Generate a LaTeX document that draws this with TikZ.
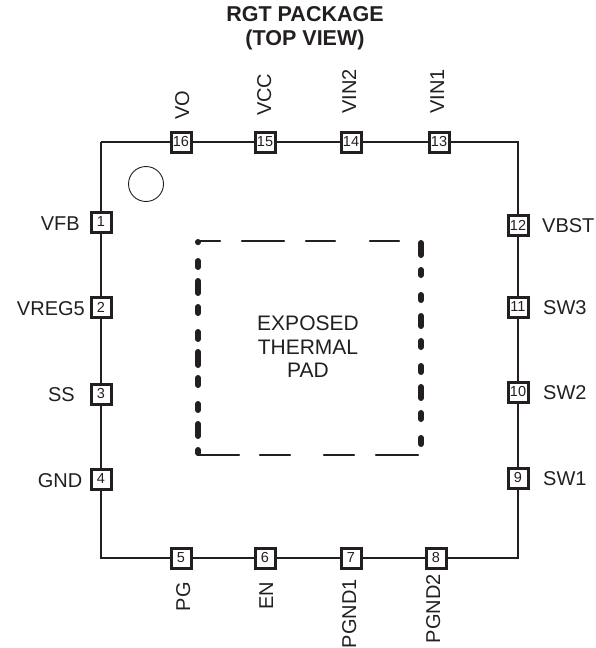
\documentclass[tikz,border=0pt]{standalone}
\usepackage{fontspec}
\setmainfont{Liberation Sans}
\definecolor{inkdark}{HTML}{231F20}
\begin{document}
\begin{tikzpicture}[x=1pt, y=-1pt, line width=2.4pt, color=inkdark,
    pinbox/.style={draw, shape=rectangle, minimum size=20pt, inner sep=0pt, line width=3pt, fill=white, font=\fontsize{14.5}{15}\selectfont},
    pinname/.style={inner sep=0pt, text height=14.4pt, text depth=0pt, font=\fontsize{20}{24}\selectfont},
    padthin/.style={line width=2.4pt, line cap=round},
    padthick/.style={line width=6pt, line cap=round}
]
\useasboundingbox (0,0) rectangle (596,648);
% --- Title ---
\node[align=center, inner sep=0pt, font=\fontsize{21.5}{24}\selectfont\bfseries] (title) at (305,28.5) {RGT PACKAGE\\(TOP VIEW)};
% --- Left pins ---
\node[pinbox] (p1) at (101,222) {1};
\node[pinbox] (p2) at (101,307) {2};
\node[pinbox] (p3) at (101,394) {3};
\node[pinbox] (p4) at (101,479) {4};
% --- Bottom pins ---
\node[pinbox] (p5) at (181,558) {5};
\node[pinbox] (p6) at (265,558) {6};
\node[pinbox] (p7) at (351,558) {7};
\node[pinbox] (p8) at (436,558) {8};
% --- Right pins ---
\node[pinbox] (p9) at (518,478) {9};
\node[pinbox] (p10) at (518,392) {10};
\node[pinbox] (p11) at (518,307) {11};
\node[pinbox] (p12) at (518,225) {12};
% --- Top pins ---
\node[pinbox] (p13) at (439,142) {13};
\node[pinbox] (p14) at (351,142) {14};
\node[pinbox] (p15) at (265,142) {15};
\node[pinbox] (p16) at (181,142) {16};
% --- Package corners ---
\coordinate (ctl) at (101,142);
\coordinate (ctr) at (518,142);
\coordinate (cbr) at (518,558);
\coordinate (cbl) at (101,558);
% --- Package outline ---
\draw (ctl) -- (p1);
\draw (p1) -- (p2);
\draw (p2) -- (p3);
\draw (p3) -- (p4);
\draw (p4) -- (cbl) -- (p5);
\draw (p5) -- (p6);
\draw (p6) -- (p7);
\draw (p7) -- (p8);
\draw (p8) -- (cbr) -- (p9);
\draw (p9) -- (p10);
\draw (p10) -- (p11);
\draw (p11) -- (p12);
\draw (p12) -- (ctr) -- (p13);
\draw (p13) -- (p14);
\draw (p14) -- (p15);
\draw (p15) -- (p16);
\draw (p16) -- (ctl);
% --- Pin 1 marker ---
\node[draw, shape=circle, minimum size=35pt, inner sep=0pt, line width=0.9pt] (dot) at (146,184) {};
% --- Pin names, left ---
\node[pinname, anchor=east] (nfb) at (81,223.5) {VFB};
\node[pinname, anchor=east] (nreg) at (86,308.5) {VREG5};
\node[pinname, anchor=east] (nss) at (76,394.5) {SS};
\node[pinname, anchor=east] (ngnd) at (83.5,480.5) {GND};
% --- Pin names, right ---
\node[pinname, anchor=west] (nvbst) at (541,225) {VBST};
\node[pinname, anchor=west] (nsw3) at (542,307.5) {SW3};
\node[pinname, anchor=west] (nsw2) at (542,392.5) {SW2};
\node[pinname, anchor=west] (nsw1) at (542,478.5) {SW1};
% --- Pin names, top ---
\node[pinname, rotate=90, anchor=west] (nvo) at (182,121) {VO};
\node[pinname, rotate=90, anchor=west] (nvcc) at (264,117) {VCC};
\node[pinname, rotate=90, anchor=west] (nvin2) at (349,115) {VIN2};
\node[pinname, rotate=90, anchor=west] (nvin1) at (437,115) {VIN1};
% --- Pin names, bottom ---
\node[pinname, rotate=90, anchor=east] (npg) at (183,581) {PG};
\node[pinname, rotate=90, anchor=east] (nen) at (266,581) {EN};
\node[pinname, rotate=90, anchor=east] (npgnd1) at (349,578) {PGND1};
\node[pinname, rotate=90, anchor=east] (npgnd2) at (433,573) {PGND2};
% --- Exposed pad, dashed outline ---
\draw[padthin] (197,241) -- (220,241);
\draw[padthin] (242,241) -- (284,241);
\draw[padthin] (306,241) -- (335,241);
\draw[padthin] (370,241) -- (399,241);
\draw[padthin] (198,455) -- (239,455);
\draw[padthin] (260,455) -- (290,455);
\draw[padthin] (324,455) -- (354,455);
\draw[padthin] (376,455) -- (418,455);
\draw[padthick] (198,242) -- (198,242.2);
\draw[padthick] (198,261) -- (198,267);
\draw[padthick] (198,281) -- (198,293);
\draw[padthick] (198,307) -- (198,313);
\draw[padthick] (198,332) -- (198,339);
\draw[padthick] (198,352) -- (198,365);
\draw[padthick] (198,378) -- (198,385);
\draw[padthick] (198,404) -- (198,410);
\draw[padthick] (198,424) -- (198,436);
\draw[padthick] (198,450) -- (198,453);
\draw[padthick] (421,243) -- (421,255);
\draw[padthick] (421,270) -- (421,275);
\draw[padthick] (421,295) -- (421,300);
\draw[padthick] (421,316) -- (421,326);
\draw[padthick] (421,341) -- (421,347);
\draw[padthick] (421,366) -- (421,372);
\draw[padthick] (421,387) -- (421,398);
\draw[padthick] (421,413) -- (421,419);
\draw[padthick] (421,438) -- (421,444);
% --- Pad text ---
\node[align=center, inner sep=0pt, font=\fontsize{21}{23.5}\selectfont] (padtext) at (308,347) {EXPOSED\\THERMAL\\PAD};
\end{tikzpicture}
\end{document}
